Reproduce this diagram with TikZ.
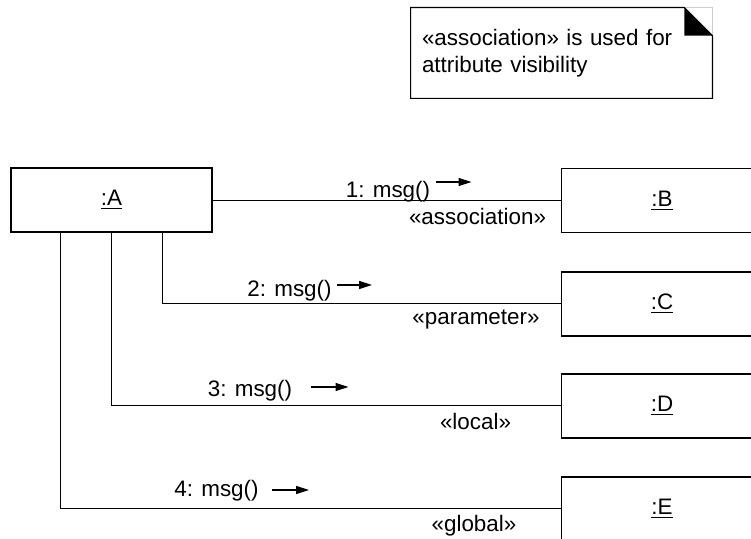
\documentclass[tikz,border=0pt]{standalone}
\usepackage{fontspec}
\setmainfont{Liberation Sans}
\usetikzlibrary{arrows.meta, calc}

\begin{document}
\begin{tikzpicture}[x=0.5pt, y=-0.5pt,
    obj/.style={draw, line width=0.6pt, minimum width=100.5pt,
      minimum height=32pt, inner sep=0pt, font=\fontsize{11.2}{13.5}\selectfont},
    lbl/.style={anchor=base, inner sep=0pt, font=\fontsize{11.2}{13.5}\selectfont},
    link/.style={line width=0.5pt},
    msg/.style={-{Triangle[length=6.5pt, width=4pt]}, line width=0.6pt},
  ]
    \useasboundingbox (0,0) rectangle (751,539);

    % note
    \node[inner sep=0pt, minimum width=150.5pt, minimum height=45pt,
      text width=139.5pt, align=left, font=\fontsize{11.2}{13.5}\selectfont]
      (note) at (561.5,53) {«association» is used for\\attribute visibility};
    \draw[gray!40, line width=0.4pt] ([xshift=-14pt]note.north east) -- (note.north east)
      -- ([yshift=-14pt]note.north east);
    \draw[line width=0.6pt] (note.north west) -- ([xshift=-14pt]note.north east)
      -- ([yshift=-14pt]note.north east) -- (note.south east)
      -- (note.south west) -- cycle;
    \fill ([xshift=-14pt]note.north east) -- ([xshift=-14pt, yshift=-14pt]note.north east)
      -- ([yshift=-14pt]note.north east) -- cycle;

    % objects
    \node[obj] (a) at (111.5,200) {\underline{:A}};
    \node[obj] (b) at (662,200.5) {\underline{:B}};
    \node[obj] (c) at (662,304) {\underline{:C}};
    \node[obj] (d) at (662,406) {\underline{:D}};
    \node[obj] (e) at (662,509) {\underline{:E}};

    % links
    \draw[link] (a.east |- b.west) -- (b.west);
    \draw[link] ($(a.south west)!0.75!(a.south east)$) |- (c.west);
    \draw[link] (a.south) |- (d.west);
    \draw[link] ($(a.south west)!0.25!(a.south east)$) |- (e.west);

    % messages
    \node[lbl] (m1) at (388,198) {1: msg()};
    \node[lbl] (m2) at (289.5,297) {2: msg()};
    \node[lbl] (m3) at (250,397) {3: msg()};
    \node[lbl] (m4) at (216.5,497) {4: msg()};
    \draw[msg] ([xshift=2.5pt, yshift=8pt]m1.base east) -- ++(18pt,0);
    \draw[msg] ([xshift=2.5pt, yshift=6pt]m2.base east) -- ++(17.5pt,0);
    \draw[msg] ([xshift=9pt, yshift=5pt]m3.base east) -- ++(19pt,0);
    \draw[msg] ([xshift=6.5pt, yshift=3.5pt]m4.base east) -- ++(18.5pt,0);

    % stereotypes
    \node[lbl] (s1) at (477.5,225) {«association»};
    \node[lbl] (s2) at (476,325) {«parameter»};
    \node[lbl] (s3) at (475.5,430) {«local»};
    \node[lbl] (s4) at (474,532) {«global»};
  \end{tikzpicture}
\end{document}
